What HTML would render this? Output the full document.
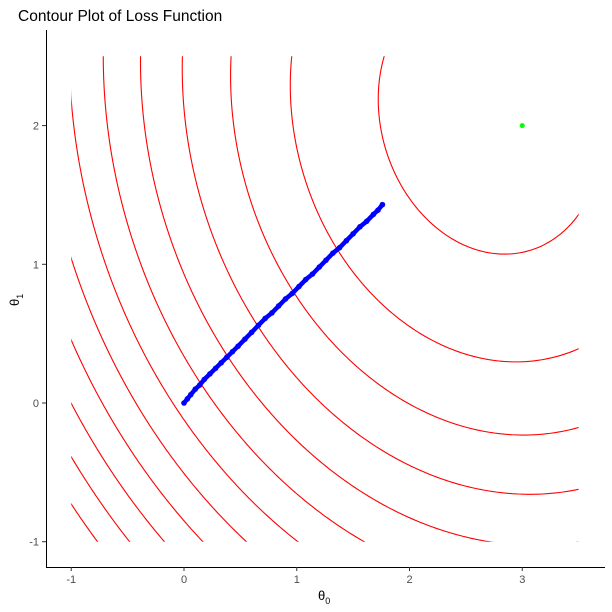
<!DOCTYPE html>
<html><head><meta charset="utf-8"><style>
html,body{margin:0;padding:0;background:#fff;overflow:hidden;width:612px;height:612px}
svg{display:block}
svg text{font-family:"Liberation Sans",sans-serif}
</style></head><body>
<svg id="chart" width="612" height="612">
<text x="18" y="21" font-size="15.5" fill="#000">Contour Plot of Loss Function</text>
<defs><clipPath id="dom"><rect id="domrect" x="0" y="0" width="0" height="0"/></clipPath></defs>
<g id="contours" clip-path="url(#dom)"></g>
<g id="path"></g>
<g id="axes"></g>
</svg>
<script>
const xTicks=[-1,0,1,2,3];
const yTicks=[-1,0,1,2];
// contour crossing points, with contour index (0 = innermost)
const obsX=[3.5,3.5,3.5,3.5,3.5, 1.756,0.967,0.479,-0.018,-0.399,-0.736, 1.553,0.961,0.512,0.133,-0.199,-0.495,-0.766,-1.0, -1,-1,-1,-1,-1,-1, 1.762,2.89,2.15,3.33];
const obsY=[1.30,0.38,-0.154,-0.59,-0.957, 2.5,2.5,2.5,2.5,2.5,2.5, -1,-1,-1,-1,-1,-1,-1,-1, 1.98,1.0,0.447,0.007,-0.36,-0.68, 2.16,1.089,1.37,1.175];
const obsLevel=[0,1,2,3,4, 0,1,2,3,4,5, 5,6,7,8,9,10,11,12, 6,7,8,9,10,11, 0,0,0,0];
const obsWeight=[6,2,1,1,1, 6,2,1,1,1,1, 1,1,1,1,1,1,1,1, 1,1,1,1,1,1, 6,6,6,6];
const levelCount=13;
const minimum=[3,2];
const pathX=[0,0.03,0.06,0.1,0.14,0.18,0.23,0.28,0.33,0.38,0.43,0.48,0.54,0.6,0.66,0.72,0.78,0.84,0.9,0.96,1.02,1.08,1.14,1.2,1.26,1.32,1.38,1.44,1.5,1.56,1.62,1.68,1.72,1.76];
const pathY=[0,0.03,0.06,0.1,0.13,0.17,0.21,0.25,0.29,0.33,0.37,0.41,0.46,0.51,0.56,0.61,0.65,0.7,0.75,0.79,0.84,0.89,0.93,0.98,1.03,1.08,1.12,1.17,1.22,1.27,1.31,1.36,1.39,1.43];
const NS='http://www.w3.org/2000/svg';
const X=v=>184+(v)*112.75;
const Y=v=>403-(v)*138.7;
function mk(tag,attrs,parent){const e=document.createElementNS(NS,tag);for(const k in attrs)e.setAttribute(k,attrs[k]);parent.appendChild(e);return e;}
const dr=document.getElementById('domrect');
dr.setAttribute('x',X(-1));dr.setAttribute('y',Y(2.5));dr.setAttribute('width',X(3.5)-X(-1));dr.setAttribute('height',Y(-1)-Y(2.5));
function feats(x,y){return [x*x,x*y,y*y,x,y,1];}
const N=6;const M=[];for(let i=0;i<N;i++){M.push(new Array(N+1).fill(0));}
obsX.forEach((x,i)=>{const f=feats(x,obsY[i]);const w=obsWeight[i];for(let r=0;r<N;r++){for(let c=0;c<N;c++)M[r][c]+=w*f[r]*f[c];M[r][N]+=w*f[r]*obsLevel[i];}});
for(let c=0;c<N;c++){let p=c;for(let r=c+1;r<N;r++)if(Math.abs(M[r][c])>Math.abs(M[p][c]))p=r;[M[c],M[p]]=[M[p],M[c]];
  for(let r=0;r<N;r++){if(r===c)continue;const f=M[r][c]/M[c][c];for(let k=c;k<=N;k++)M[r][k]-=f*M[c][k];}}
const P=M.map((row,i)=>row[N]/row[i]);
const J=(x,y)=>{const f=feats(x,y);let s=0;for(let i=0;i<N;i++)s+=P[i]*f[i];return s;};
const cg=document.getElementById('contours');
const nx=180,ny=140,x0=-1.05,x1=3.55,y0=-1.05,y1=2.55;
const grid=[];for(let j=0;j<=ny;j++){const row=[];for(let i=0;i<=nx;i++)row.push(J(x0+(x1-x0)*i/nx,y0+(y1-y0)*j/ny));grid.push(row);}
for(let L=0;L<levelCount;L++){
  let d='';
  for(let j=0;j<ny;j++)for(let i=0;i<nx;i++){
    const xa=x0+(x1-x0)*i/nx,xb=x0+(x1-x0)*(i+1)/nx,ya=y0+(y1-y0)*j/ny,yb=y0+(y1-y0)*(j+1)/ny;
    const v=[grid[j][i],grid[j][i+1],grid[j+1][i+1],grid[j+1][i]];
    const pts=[[xa,ya],[xb,ya],[xb,yb],[xa,yb]];
    const cr=[];
    for(let e=0;e<4;e++){const a=v[e],b=v[(e+1)%4];if((a<L)!==(b<L)){const t=(L-a)/(b-a);const pa=pts[e],pb=pts[(e+1)%4];cr.push([pa[0]+t*(pb[0]-pa[0]),pa[1]+t*(pb[1]-pa[1])]);}}
    for(let q=0;q+1<cr.length;q+=2){d+='M'+X(cr[q][0]).toFixed(2)+' '+Y(cr[q][1]).toFixed(2)+'L'+X(cr[q+1][0]).toFixed(2)+' '+Y(cr[q+1][1]).toFixed(2);}
  }
  const p=mk('path',{d:d,fill:'none',stroke:'#ff0000','stroke-width':1.1,'stroke-linecap':'round'},cg);
  
  
}
const pg=document.getElementById('path');
const pl=mk('polyline',{points:pathX.map((v,i)=>X(v)+','+Y(pathY[i])).join(' '),fill:'none',stroke:'#0000ff','stroke-width':4.5,'stroke-linecap':'round'},pg);


pathX.forEach((v,i)=>{
  const c=mk('circle',{cx:X(v),cy:Y(pathY[i]),r:2.8,fill:'#0000ff'},pg);
  
  
});
const g=mk('circle',{cx:X(minimum[0]),cy:Y(minimum[1]),r:2.5,fill:'#00ff00'},pg);


const ax=document.getElementById('axes');
const l1=mk('line',{x1:46.5,y1:30,x2:46.5,y2:567.5,stroke:'#000','stroke-width':1},ax);


const l2=mk('line',{x1:46,y1:567.5,x2:605,y2:567.5,stroke:'#000','stroke-width':1},ax);


xTicks.forEach(v=>{
  const tk=mk('line',{x1:X(v),y1:567,x2:X(v),y2:571,stroke:'#333'},ax);
  
  
  const t=mk('text',{x:X(v),y:583,'font-size':11,fill:'#4d4d4d','text-anchor':'middle'},ax);
  t.textContent=v;
  
  
});
yTicks.forEach(v=>{
  const tk=mk('line',{x1:42,y1:Y(v),x2:46,y2:Y(v),stroke:'#333'},ax);
  
  
  const t=mk('text',{x:39,y:Y(v)+4,'font-size':11,fill:'#4d4d4d','text-anchor':'end'},ax);
  t.textContent=v;
  
  
});
const xt=mk('text',{x:318,y:600,'font-size':13,fill:'#000'},ax);
xt.innerHTML='θ<tspan font-size="9" dy="4">0</tspan>';


const yt=mk('text',{x:0,y:0,'font-size':13,fill:'#000',transform:'translate(19,306) rotate(-90)'},ax);
yt.innerHTML='θ<tspan font-size="9" dy="4">1</tspan>';


</script>
</body></html>
